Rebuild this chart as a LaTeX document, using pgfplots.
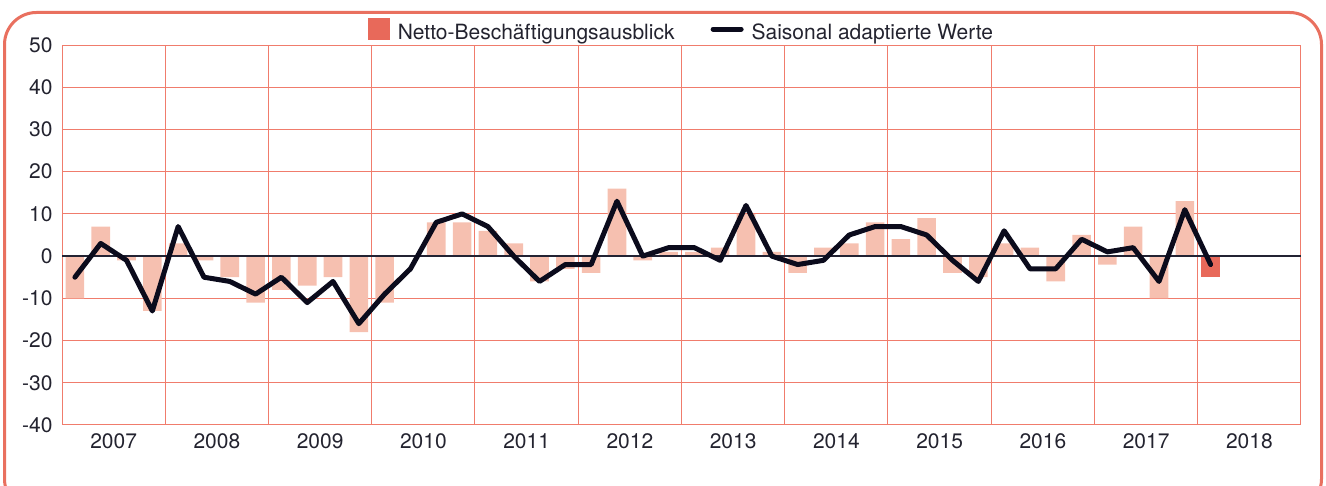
\documentclass[border=0pt]{standalone}
\usepackage{pgfplots}
\pgfplotsset{compat=1.18}
\usepackage{fontspec}
\setmainfont{TeX Gyre Heros}
\definecolor{barlight}{HTML}{F6C0B0}
\definecolor{bardark}{HTML}{E8695A}
\definecolor{gridc}{HTML}{F07C6C}
\definecolor{framec}{HTML}{E9705F}
\definecolor{linec}{HTML}{0B0B1C}
\definecolor{textc}{HTML}{23232F}
\begin{document}
\begin{tikzpicture}[x=1pt,y=1pt]
\path[use as bounding box] (0,0) rectangle (1326,486);
\clip (0,0) rectangle (1326,486);
\draw[framec, line width=3pt, rounded corners=32pt] (4.5,-25) rectangle (1321.5,473.5);
\begin{axis}[
  at={(62pt,61pt)}, anchor=south west,
  scale only axis, width=1239pt, height=380pt,
  xmin=0, xmax=48, ymin=-40, ymax=50,
  xtick={2,6,10,14,18,22,26,30,34,38,42,46},
  xticklabels={2007,2008,2009,2010,2011,2012,2013,2014,2015,2016,2017,2018},
  minor xtick={0,4,...,48},
  xminorgrids=true, xmajorgrids=false, ymajorgrids=true,
  ytick={-40,-30,...,50},
  yticklabels={-40,-30,-20,-10,0,10,20,30,40,50},
  major tick length=0pt, minor tick length=0pt,
  grid style={gridc, line width=1pt},
  minor grid style={gridc, line width=1pt},
  axis line style={gridc, line width=1pt},
  tick label style={font=\fontsize{21}{24}\selectfont, text=textc},
  yticklabel style={xshift=-6pt},
  xticklabel style={yshift=-5pt},
  legend columns=2,
  legend style={at={(0.5,1)}, anchor=south, yshift=0pt, draw=none, fill=none,
    font=\fontsize{21}{24}\selectfont, text=textc,
    /tikz/every odd column/.append style={column sep=6pt},
    /tikz/every even column/.append style={column sep=34pt}},
]
\addplot[ybar, bar width=0.72, bar shift=0pt, fill=barlight, draw=none, forget plot] coordinates {
(0.5,-10) (1.5,7) (2.5,-1) (3.5,-13)
(4.5,3) (5.5,-1) (6.5,-5) (7.5,-11)
(8.5,-8) (9.5,-7) (10.5,-5) (11.5,-18)
(12.5,-11) (13.5,0) (14.5,8) (15.5,8)
(16.5,6) (17.5,3) (18.5,-6) (19.5,-3)
(20.5,-4) (21.5,16) (22.5,-1) (23.5,1)
(24.5,1) (25.5,2) (26.5,10) (27.5,1)
(28.5,-4) (29.5,2) (30.5,3) (31.5,8)
(32.5,4) (33.5,9) (34.5,-4) (35.5,-5)
(36.5,3) (37.5,2) (38.5,-6) (39.5,5)
(40.5,-2) (41.5,7) (42.5,-10) (43.5,13)
};
\addplot[ybar, bar width=0.72, bar shift=0pt, fill=bardark, draw=none,
  legend image code/.code={\fill[bardark] (0pt,-8pt) rectangle (22pt,14pt);}] coordinates {(44.5,-5)};
\addlegendentry{Netto-Beschäftigungsausblick}
\draw[linec!90!white, line width=2.7pt] (axis cs:0,0) -- (axis cs:48,0);
\addplot[linec, line width=5pt, line join=round, line cap=round, mark=none,
  legend image code/.code={\draw[linec, line width=5pt] (0pt,3pt) -- (28pt,3pt);}] coordinates {
(0.5,-5) (1.5,3) (2.5,-1) (3.5,-13)
(4.5,7) (5.5,-5) (6.5,-6) (7.5,-9)
(8.5,-5) (9.5,-11) (10.5,-6) (11.5,-16)
(12.5,-9) (13.5,-3) (14.5,8) (15.5,10)
(16.5,7) (17.5,0) (18.5,-6) (19.5,-2)
(20.5,-2) (21.5,13) (22.5,0) (23.5,2)
(24.5,2) (25.5,-1) (26.5,12) (27.5,0)
(28.5,-2) (29.5,-1) (30.5,5) (31.5,7)
(32.5,7) (33.5,5) (34.5,-1) (35.5,-6)
(36.5,6) (37.5,-3) (38.5,-3) (39.5,4)
(40.5,1) (41.5,2) (42.5,-6) (43.5,11)
(44.5,-2)
};
\addlegendentry{Saisonal adaptierte Werte}
\end{axis}
\end{tikzpicture}
\end{document}
